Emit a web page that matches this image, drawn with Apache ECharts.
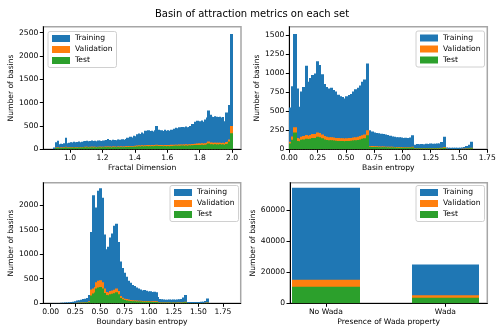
<!DOCTYPE html>
<html><head><meta charset="utf-8">
<script src="https://cdn.jsdelivr.net/npm/echarts@6/dist/echarts.min.js"></script>
<style>html,body{margin:0;padding:0;background:#fff}#c{width:504px;height:336px}</style>
</head><body><div id="c"></div>
<script>
// ---------- DATA ----------
const seriesNames = ['Training', 'Validation', 'Test'];

// Fractal dimension histogram: bins of width 0.01 starting at 0.90
const fractalStart = 0.90, fractalWidth = 0.01;
const fractalTraining = [
 40,150,185,110,120,115,130,250,130,140,
 150,145,160,150,155,165,150,160,175,180,
 185,175,180,190,180,185,175,190,185,180,
 190,185,200,220,200,190,205,200,195,210,
 205,200,215,205,220,250,240,270,255,290,
 280,320,340,330,360,340,400,380,410,390,
 400,380,410,500,420,400,410,390,420,400,
 410,395,420,405,440,460,450,470,460,480,
 470,490,470,480,500,540,520,590,610,580,
 600,620,590,640,680,830,740,700,690,710,
 700,690,700,680,690,600,790,760,950,2470];
const fractalValidation = [
 5,40,45,35,40,38,42,55,40,42,
 45,42,48,44,46,50,45,48,50,52,
 52,50,54,55,52,54,50,56,55,53,
 56,55,60,57,58,55,60,58,56,60,
 60,58,62,60,63,66,65,70,68,72,
 75,80,82,80,85,82,88,85,90,88,
 90,86,92,100,92,90,92,88,94,90,
 92,90,95,92,98,100,98,102,100,105,
 102,106,104,105,110,115,112,120,125,122,
 125,128,124,132,138,165,145,140,138,142,
 140,138,142,136,140,130,155,160,210,500];
const fractalTest = [
 3,30,34,26,30,28,32,40,30,32,
 34,32,36,33,35,38,34,36,38,39,
 39,38,40,41,39,40,38,42,41,40,
 42,41,45,43,43,41,45,43,42,45,
 45,43,46,45,47,50,49,52,51,54,
 56,60,62,60,64,62,66,64,68,66,
 68,65,69,75,69,68,69,66,70,68,
 69,68,71,69,74,75,74,77,75,79,
 77,80,78,79,83,86,84,90,94,92,
 94,96,93,99,104,124,109,105,104,107,
 105,104,107,102,105,98,116,120,165,345];

// Basin entropy histogram: bins of width 0.02 starting at 0.00
const entropyStart = 0.0, entropyWidth = 0.02;
const entropyTraining = [
 550,830,1520,800,560,760,820,1100,890,940,
 980,1000,1160,1110,990,860,820,800,810,780,
 760,720,700,690,670,700,715,730,760,790,
 810,840,890,920,1130,250,235,220,215,210,
 205,200,195,190,180,170,165,160,158,155,
 150,152,148,155,185,60,70,65,70,68,
 72,70,75,72,74,78,76,95,165,25,
 22,20,20,22,21,22,25,30,45,60,
 100];
const entropyValidation = [
 100,170,290,150,140,165,175,190,180,190,
 200,200,220,215,195,175,165,160,160,155,
 150,148,145,145,142,145,148,150,155,160,
 165,175,185,195,250,45,42,40,40,38,
 38,36,35,34,33,32,31,30,30,29,
 28,28,27,28,32,14,15,14,15,14,
 15,14,15,15,15,16,16,19,30,6,
 5,5,5,5,5,5,6,7,10,13,
 20];
const entropyTest = [
 75,125,220,110,105,125,130,140,135,140,
 150,150,165,160,145,130,122,118,118,115,
 112,110,108,108,106,108,110,112,115,118,
 122,130,138,145,185,33,31,30,30,28,
 28,27,26,25,24,24,23,22,22,21,
 21,21,20,21,24,10,11,10,11,10,
 11,10,11,11,11,12,12,14,22,4,
 4,4,4,4,4,4,4,5,7,10,
 15];

// Boundary basin entropy histogram: bins of width 0.02 starting at 0.00
const boundaryStart = 0.0, boundaryWidth = 0.02;
const boundaryTraining = [
 3,4,5,6,8,10,12,14,16,20,
 25,30,40,55,60,70,85,95,110,170,
 1450,2200,1600,1950,2290,2340,2150,1400,1100,1150,
 1340,1420,1580,1620,1250,850,720,620,540,460,
 420,370,350,320,300,280,260,270,255,240,
 245,230,235,225,130,90,80,75,72,70,
 75,70,78,72,75,80,90,120,170,28,
 25,27,26,28,27,28,30,32,45,100,
 5];
const boundaryValidation = [
 1,1,1,1,2,2,2,3,3,4,
 5,6,8,11,12,14,17,19,22,40,
 280,300,330,430,460,470,430,300,230,220,
 250,260,275,300,250,150,115,95,85,75,
 68,62,58,55,52,50,48,47,46,45,
 44,42,41,40,25,18,16,15,14,14,
 14,13,14,13,14,15,17,22,30,6,
 5,5,5,5,5,5,6,6,9,18,
 1];
const boundaryTest = [
 1,1,1,1,1,1,2,2,2,3,
 3,4,6,8,9,10,12,14,16,28,
 160,200,220,300,320,330,300,210,170,165,
 185,195,205,225,185,110,80,65,58,52,
 48,44,41,39,37,35,34,33,32,31,
 30,29,28,28,18,13,11,11,10,10,
 10,9,10,9,10,11,12,15,21,4,
 4,4,4,4,4,4,4,4,6,12,
 1];

// Wada property bar chart
const wadaCategories = ['No Wada', 'Wada'];
const wadaTraining = [74300, 24900];
const wadaValidation = [15200, 5150];
const wadaTest = [10700, 3650];

// Tick labels
const fractalTicks = [1.0, 1.2, 1.4, 1.6, 1.8, 2.0];
const entropyTicks = [0, 0.25, 0.5, 0.75, 1.0, 1.25, 1.5, 1.75];
const fractalYTicks = [0, 500, 1000, 1500, 2000, 2500];
const entropyYTicks = [0, 250, 500, 750, 1000, 1250, 1500];
const boundaryYTicks = [0, 500, 1000, 1500, 2000];
const wadaYTicks = [0, 20000, 40000, 60000];

// ---------- CHART ----------
const FF = 'DejaVu Sans';
const FS = 7.6;
const colors = ['#1f77b4', '#ff7f0e', '#2ca02c'];

function hist(values, start, width) {
  return values.map((v, i) => [start + i * width, start + (i + 1) * width, v]);
}
function bars(values, halfWidth) {
  return values.map((v, i) => [i - halfWidth, i + halfWidth, v]);
}
function renderRect(params, api) {
  const p0 = api.coord([api.value(0), api.value(2)]);
  const p1 = api.coord([api.value(1), 0]);
  const c = api.visual('color');
  const x0 = Math.floor(p0[0]);
  const x1 = Math.max(Math.ceil(p1[0]), x0 + 1);
  return {
    type: 'rect',
    shape: { x: x0, y: p0[1], width: x1 - x0, height: p1[1] - p0[1] },
    style: { fill: c }
  };
}

const grids = [
  { left: 43.3, top: 26.7, width: 197.7, height: 122.6 },
  { left: 289.3, top: 26.7, width: 198, height: 122.6 },
  { left: 43.3, top: 182.7, width: 197.4, height: 120.6 },
  { left: 290, top: 182.7, width: 197.3, height: 120.6 }
].map(g => Object.assign({ show: true, borderColor: '#a6a6a6', borderWidth: 1.5, backgroundColor: '#fff' }, g));

function xAxis(gi, min, max, ticks, fmt, name) {
  return {
    type: 'value', gridIndex: gi, min: min, max: max, name: name,
    nameLocation: 'middle', nameGap: 15,
    nameTextStyle: { fontSize: FS, color: '#000', fontFamily: FF },
    axisLine: { show: true, onZero: false, lineStyle: { color: '#000', width: 1 } },
    axisTick: { show: true, length: 3.5, lineStyle: { color: '#000', width: 1 }, customValues: ticks },
    axisLabel: { show: true, customValues: ticks, formatter: fmt, fontSize: FS, color: '#000', margin: 5, fontFamily: FF },
    splitLine: { show: false }
  };
}
function yAxis(gi, max, ticks, nameGap) {
  return {
    type: 'value', gridIndex: gi, min: 0, max: max, name: 'Number of basins',
    nameLocation: 'middle', nameGap: nameGap, nameRotate: 90,
    nameTextStyle: { fontSize: FS, color: '#000', fontFamily: FF },
    axisLine: { show: true, onZero: false, lineStyle: { color: '#000', width: 1 } },
    axisTick: { show: true, length: 3.5, lineStyle: { color: '#000', width: 1 }, customValues: ticks },
    axisLabel: { show: true, customValues: ticks, formatter: v => String(Math.round(v)), fontSize: FS, color: '#000', margin: 5, fontFamily: FF },
    splitLine: { show: false }
  };
}
function legendAt(left, top) {
  return {
    left: left, top: top, orient: 'vertical', data: seriesNames, icon: 'rect',
    itemWidth: 18, itemHeight: 7, itemGap: 3, selectedMode: false,
    backgroundColor: 'rgba(255,255,255,0.85)', borderColor: '#d0d0d0', borderWidth: 1, borderRadius: 2,
    padding: [3, 4, 3, 4],
    textStyle: { fontSize: FS, color: '#000', fontFamily: FF, lineHeight: 8 }
  };
}

const series = [];
function addHist(gi, arrs, start, width) {
  arrs.forEach((arr, k) => {
    series.push({
      type: 'custom', name: seriesNames[k], xAxisIndex: gi, yAxisIndex: gi,
      renderItem: renderRect, clip: true,
      itemStyle: { color: colors[k] },
      encode: { x: [0, 1], y: 2 },
      data: hist(arr, start, width)
    });
  });
}
addHist(0, [fractalTraining, fractalValidation, fractalTest], fractalStart, fractalWidth);
addHist(1, [entropyTraining, entropyValidation, entropyTest], entropyStart, entropyWidth);
addHist(2, [boundaryTraining, boundaryValidation, boundaryTest], boundaryStart, boundaryWidth);
[wadaTraining, wadaValidation, wadaTest].forEach((arr, k) => {
  series.push({
    type: 'custom', name: seriesNames[k], xAxisIndex: 3, yAxisIndex: 3,
    renderItem: renderRect, clip: true,
    itemStyle: { color: colors[k] },
    encode: { x: [0, 1], y: 2 },
    data: bars(arr, 0.278)
  });
});

const option = {
  animation: false,
  backgroundColor: '#fff',
  textStyle: { fontFamily: FF },
  title: { text: 'Basin of attraction metrics on each set', left: 'center', top: 4,
    textStyle: { fontSize: 10, fontWeight: 'normal', color: '#000', fontFamily: FF } },
  grid: grids,
  xAxis: [
    xAxis(0, 0.835, 2.055, fractalTicks, v => v.toFixed(1), 'Fractal Dimension'),
    xAxis(1, 0, 1.75, entropyTicks, v => v.toFixed(2), 'Basin entropy'),
    xAxis(2, -0.075, 1.93, entropyTicks, v => v.toFixed(2), 'Boundary basin entropy'),
    xAxis(3, -0.3, 1.35, [0, 1], v => wadaCategories[Math.round(v)], 'Presence of Wada property')
  ],
  yAxis: [
    yAxis(0, 2628, fractalYTicks, 25),
    yAxis(1, 1615, entropyYTicks, 25),
    yAxis(2, 2455, boundaryYTicks, 25),
    yAxis(3, 77600, wadaYTicks, 29)
  ],
  legend: [legendAt(48, 31.5), legendAt(416, 31), legendAt(170, 185.5), legendAt(416, 185.5)],
  series: series
};
const chart = echarts.init(document.getElementById('c'), null, { renderer: 'canvas' });
chart.setOption(option);
</script></body></html>
